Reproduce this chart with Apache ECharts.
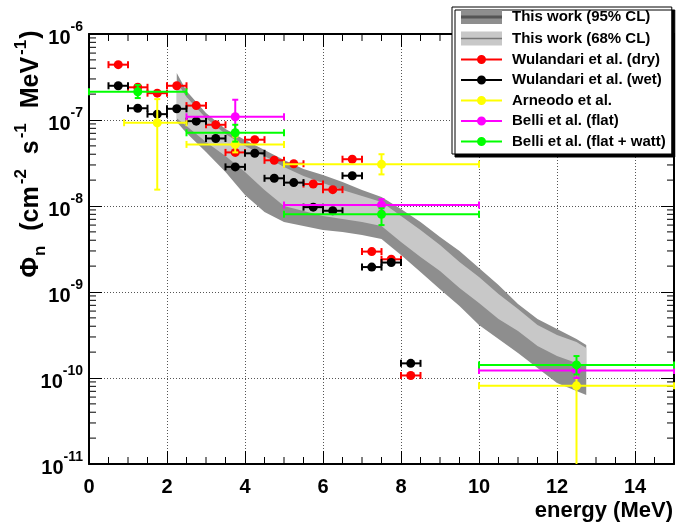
<!DOCTYPE html>
<html>
<head>
<meta charset="utf-8">
<script src="https://cdn.jsdelivr.net/npm/echarts@6/dist/echarts.min.js"></script>
<style>
  html, body { margin: 0; padding: 0; background: #ffffff; }
  #chart { width: 688px; height: 524px; }
</style>
</head>
<body>
<div id="chart"></div>
<script>
// ---- neutron flux measurements (energy in MeV, flux in cm^-2 s^-1 MeV^-1) ----
const wulandariEnergy = [0.75, 1.25, 1.75, 2.25, 2.75, 3.25, 3.75, 4.25, 4.75, 5.25, 5.75, 6.25, 6.75, 7.25, 7.75, 8.25];
const wulandariHalfBin = 0.25;
const wulandariDry = [4.4e-7, 2.4e-7, 2.05e-7, 2.5e-7, 1.47e-7, 8.8e-8, 4.2e-8, 5.9e-8, 3.4e-8, 3.1e-8, 1.8e-8, 1.55e-8, 3.5e-8, 2.95e-9, 2.4e-9, 1.07e-10];
const wulandariWet = [2.5e-7, 1.37e-7, 1.17e-7, 1.35e-7, 9.7e-8, 6.1e-8, 2.85e-8, 4.1e-8, 2.1e-8, 1.87e-8, 9.7e-9, 8.8e-9, 2.25e-8, 1.95e-9, 2.2e-9, 1.48e-10];

const arneodoEnergy = [1.75, 3.75, 7.5, 12.5];
const arneodoELow = [0.9, 2.5, 5, 10];
const arneodoEHigh = [2.5, 5, 10, 15];
const arneodoFlux = [9.3e-8, 5.2e-8, 3.05e-8, 8.1e-11];
const arneodoFluxLow = [1.55e-8, 4.2e-8, 2.33e-8, 0];
const arneodoFluxHigh = [1.75e-7, 6.4e-8, 4.0e-8, 1.2e-10];

const belliFlatEnergy = [3.75, 7.5, 12.5];
const belliFlatELow = [2.5, 5, 10];
const belliFlatEHigh = [5, 10, 15];
const belliFlatFlux = [1.09e-7, 1.03e-8, 1.22e-10];
const belliFlatFluxLow = [7.2e-8, 8.7e-9, 1.0e-10];
const belliFlatFluxHigh = [1.72e-7, 1.2e-8, 1.45e-10];

const belliWattEnergy = [1.25, 3.75, 7.5, 12.5];
const belliWattELow = [0, 2.5, 5, 10];
const belliWattEHigh = [2.5, 5, 10, 15];
const belliWattFlux = [2.13e-7, 7.1e-8, 8.0e-9, 1.42e-10];
const belliWattFluxLow = [1.8e-7, 5.6e-8, 6.0e-9, 1.1e-10];
const belliWattFluxHigh = [2.55e-7, 8.8e-8, 9.4e-9, 1.8e-10];

// ---- this work: confidence bands ----
const bandEnergy = [2.25, 2.5, 3, 3.5, 4, 4.5, 5, 5.5, 6, 6.5, 7, 7.5, 8, 8.5, 9, 9.5, 10, 10.5, 11, 11.5, 12, 12.5, 12.75];
const band95High = [3.52e-7, 2.17e-7, 1.21e-7, 7.86e-8, 5.85e-8, 4.48e-8, 3.43e-8, 2.69e-8, 2.29e-8, 1.90e-8, 1.53e-8, 1.27e-8, 9.23e-9, 6.52e-9, 4.36e-9, 3.00e-9, 1.90e-9, 1.21e-9, 7.25e-10, 4.85e-10, 3.71e-10, 2.84e-10, 2.42e-10];
const band95Low = [9.48e-8, 7.06e-8, 4.25e-8, 2.48e-8, 1.34e-8, 8.51e-9, 6.52e-9, 5.85e-9, 5.26e-9, 4.98e-9, 4.60e-9, 4.13e-9, 2.69e-9, 1.71e-9, 1.08e-9, 6.87e-10, 4.13e-10, 2.84e-10, 1.95e-10, 1.31e-10, 8.75e-11, 7.06e-11, 6.34e-11];
const band68High = [2.77e-7, 1.85e-7, 1.05e-7, 6.87e-8, 4.98e-8, 3.81e-8, 2.84e-8, 2.23e-8, 1.85e-8, 1.53e-8, 1.31e-8, 1.11e-8, 7.65e-9, 5.26e-9, 3.52e-9, 2.23e-9, 1.49e-9, 9.48e-10, 6.34e-10, 4.13e-10, 3.16e-10, 2.62e-10, 2.23e-10];
const band68Low = [1.05e-7, 8.51e-8, 5.55e-8, 3.81e-8, 2.48e-8, 1.53e-8, 1.0e-8, 8.75e-9, 7.65e-9, 7.06e-9, 6.52e-9, 5.85e-9, 3.81e-9, 2.55e-9, 1.75e-9, 1.11e-9, 7.45e-10, 4.85e-10, 3.52e-10, 2.35e-10, 1.80e-10, 1.49e-10, 1.38e-10];

// ---- axes ----
const energyMin = 0, energyMax = 15, energyStep = 2, energyMinorStep = 0.5;
const fluxMin = 1e-11, fluxMax = 1e-6;
const fluxMinorMultipliers = [2, 3, 4, 5, 6, 7, 8, 9];

const FONT = '"Liberation Sans", Arial, Helvetica, sans-serif';
const COLORS = {
  band95: '#8e8e8e', band68: '#c8c8c8',
  dry: '#ff0000', wet: '#000000', arneodo: '#ffff00', flat: '#ff00ff', watt: '#00ff00'
};

// table rows: [E, flux, Elow, Ehigh, fluxLow, fluxHigh]
function rows(e, f, el, eh, fl, fh) {
  return e.map((v, i) => [v, f[i], el[i], eh[i], fl[i], fh[i]]);
}
const dryRows = wulandariEnergy.map((e, i) => [e, wulandariDry[i], e - wulandariHalfBin, e + wulandariHalfBin, wulandariDry[i], wulandariDry[i]]);
const wetRows = wulandariEnergy.map((e, i) => [e, wulandariWet[i], e - wulandariHalfBin, e + wulandariHalfBin, wulandariWet[i], wulandariWet[i]]);
const arneodoRows = rows(arneodoEnergy, arneodoFlux, arneodoELow, arneodoEHigh, arneodoFluxLow, arneodoFluxHigh);
const flatRows = rows(belliFlatEnergy, belliFlatFlux, belliFlatELow, belliFlatEHigh, belliFlatFluxLow, belliFlatFluxHigh);
const wattRows = rows(belliWattEnergy, belliWattFlux, belliWattELow, belliWattEHigh, belliWattFluxLow, belliWattFluxHigh);

// points with horizontal/vertical error bars and end caps
function errorBarRenderer(color) {
  return function (params, api) {
    const cs = params.coordSys;
    const x = api.value(0), y = api.value(1);
    const xl = api.value(2), xh = api.value(3), yl = api.value(4), yh = api.value(5);
    const c = api.coord([x, y]);
    const left = api.coord([xl, y])[0];
    const right = api.coord([xh, y])[0];
    const top = api.coord([x, yh])[1];
    const bottom = yl > 0 ? api.coord([x, yl])[1] : cs.y + cs.height;
    const ls = { stroke: color, lineWidth: 2 };
    const cap = 3.5;
    const kids = [
      { type: 'line', shape: { x1: left, y1: c[1], x2: right, y2: c[1] }, style: ls },
      { type: 'line', shape: { x1: left, y1: c[1] - cap, x2: left, y2: c[1] + cap }, style: ls },
      { type: 'line', shape: { x1: right, y1: c[1] - cap, x2: right, y2: c[1] + cap }, style: ls }
    ];
    if (c[1] - top > 1) {
      kids.push({ type: 'line', shape: { x1: c[0], y1: top, x2: c[0], y2: c[1] }, style: ls });
      kids.push({ type: 'line', shape: { x1: c[0] - 3, y1: top, x2: c[0] + 3, y2: top }, style: ls });
    }
    if (bottom - c[1] > 1) {
      kids.push({ type: 'line', shape: { x1: c[0], y1: c[1], x2: c[0], y2: bottom }, style: ls });
      if (yl > 0) kids.push({ type: 'line', shape: { x1: c[0] - 3, y1: bottom, x2: c[0] + 3, y2: bottom }, style: ls });
    }
    kids.push({ type: 'circle', shape: { cx: c[0], cy: c[1], r: 4.5 }, style: { fill: color } });
    return { type: 'group', children: kids };
  };
}

// filled band between lower and upper curves
function bandRenderer(low, high, fill) {
  return function (params, api) {
    if (params.dataIndex !== 0) return null;
    const pts = [];
    for (let i = 0; i < bandEnergy.length; i++) pts.push(api.coord([bandEnergy[i], high[i]]));
    for (let i = bandEnergy.length - 1; i >= 0; i--) pts.push(api.coord([bandEnergy[i], low[i]]));
    return { type: 'polygon', shape: { points: pts }, style: { fill: fill } };
  };
}

function errorSeries(name, color, data) {
  return {
    name: name, type: 'custom', color: color, itemStyle: { color: color },
    renderItem: errorBarRenderer(color), data: data,
    encode: { x: 0, y: 1 }, z: 5
  };
}

// minor ticks (inside, on all four sides)
const xMinorTicks = [];
for (let v = energyMin + energyMinorStep; v < energyMax; v += energyMinorStep) {
  if (Math.abs(v / energyStep - Math.round(v / energyStep)) > 1e-6) xMinorTicks.push([v, 1e-8]);
}
const yMinorTicks = [];
for (let e = -11; e < -6; e++) {
  fluxMinorMultipliers.forEach(m => yMinorTicks.push([1, m * Math.pow(10, e)]));
}
function minorTickRenderer(dir) {
  return function (params, api) {
    const cs = params.coordSys;
    const p = api.coord([api.value(0), api.value(1)]);
    const st = { stroke: '#000', lineWidth: 1 };
    const len = 7;
    if (dir === 'x') {
      return { type: 'group', children: [
        { type: 'line', shape: { x1: p[0], y1: cs.y + cs.height, x2: p[0], y2: cs.y + cs.height - len }, style: st },
        { type: 'line', shape: { x1: p[0], y1: cs.y, x2: p[0], y2: cs.y + len }, style: st }
      ] };
    }
    return { type: 'group', children: [
      { type: 'line', shape: { x1: cs.x, y1: p[1], x2: cs.x + len, y2: p[1] }, style: st },
      { type: 'line', shape: { x1: cs.x + cs.width, y1: p[1], x2: cs.x + cs.width - len, y2: p[1] }, style: st }
    ] };
  };
}

// legend icons
function bandIcon(fill, line, lw) {
  const svg = "<svg xmlns='http://www.w3.org/2000/svg' width='41' height='16'>" +
    "<rect x='0' y='1' width='41' height='14' fill='" + fill + "'/>" +
    "<rect x='0' y='" + (8 - lw / 2) + "' width='41' height='" + lw + "' fill='" + line + "'/></svg>";
  return 'image://data:image/svg+xml;charset=utf-8,' + encodeURIComponent(svg);
}
const pointIcon = 'path://M0,7H41V9H0Z M25,8A4.5,4.5 0 1 1 16,8A4.5,4.5 0 1 1 25,8Z';

const gridBox = { left: 89, top: 34, width: 585, height: 430 };
const gridLine = { show: true, lineStyle: { color: '#555', width: 1, type: [1, 2] } };
const frameLine = { show: true, onZero: false, lineStyle: { color: '#000', width: 2 } };

const chart = echarts.init(document.getElementById('chart'), null, { renderer: 'canvas' });
chart.setOption({
  animation: false,
  backgroundColor: '#ffffff',
  grid: Object.assign({ show: false }, gridBox),
  xAxis: [
    {
      type: 'value', min: energyMin, max: energyMax, interval: energyStep, position: 'bottom',
      axisLine: frameLine,
      axisTick: { show: true, inside: true, length: 13, lineStyle: { color: '#000', width: 1 } },
      splitLine: gridLine,
      axisLabel: {
        show: true, showMaxLabel: false, margin: 13,
        fontFamily: FONT, fontWeight: 'bold', fontSize: 20, color: '#000'
      }
    },
    {
      type: 'value', min: energyMin, max: energyMax, interval: energyStep, position: 'top',
      axisLine: frameLine,
      axisTick: { show: true, inside: true, length: 13, lineStyle: { color: '#000', width: 1 } },
      splitLine: { show: false }, axisLabel: { show: false }
    }
  ],
  yAxis: [
    {
      type: 'log', logBase: 10, min: fluxMin, max: fluxMax, splitNumber: 5, position: 'left',
      axisLine: frameLine,
      axisTick: { show: true, inside: true, length: 13, lineStyle: { color: '#000', width: 1 } },
      splitLine: gridLine,
      axisLabel: {
        show: true, margin: 6,
        formatter: v => '{b|10}{s|' + Math.round(Math.log10(v)) + '}',
        rich: {
          b: { fontFamily: FONT, fontWeight: 'bold', fontSize: 20, color: '#000', lineHeight: 28, verticalAlign: 'bottom' },
          s: { fontFamily: FONT, fontWeight: 'bold', fontSize: 14, color: '#000', verticalAlign: 'top' }
        }
      }
    },
    {
      type: 'log', logBase: 10, min: fluxMin, max: fluxMax, splitNumber: 5, position: 'right',
      axisLine: frameLine,
      axisTick: { show: true, inside: true, length: 13, lineStyle: { color: '#000', width: 1 } },
      splitLine: { show: false }, axisLabel: { show: false }
    }
  ],
  legend: {
    z: 20,
    data: [
      { name: 'This work (95% CL)', icon: bandIcon(COLORS.band95, '#555555', 3) },
      { name: 'This work (68% CL)', icon: bandIcon(COLORS.band68, '#777777', 1.5) },
      { name: 'Wulandari et al. (dry)', icon: pointIcon },
      { name: 'Wulandari et al. (wet)', icon: pointIcon },
      { name: 'Arneodo et al.', icon: pointIcon },
      { name: 'Belli et al. (flat)', icon: pointIcon },
      { name: 'Belli et al. (flat + watt)', icon: pointIcon }
    ],
    orient: 'vertical', left: 452, top: 7,
    itemWidth: 41, itemHeight: 16, itemGap: 5.5,
    padding: [2, 6, 5, 9],
    backgroundColor: '#ffffff', borderColor: '#000', borderWidth: 1,
    shadowColor: '#000', shadowBlur: 0, shadowOffsetX: 3, shadowOffsetY: 3,
    selectedMode: false,
    textStyle: { fontFamily: FONT, fontWeight: 'bold', fontSize: 15, color: '#000', padding: [0, 0, 0, 5] }
  },
  graphic: [
    {
      type: 'text', x: 31, y: 154, rotation: Math.PI / 2, z: 10,
      style: {
        text: '{m|Φ}{sub|n}{m|  (cm}{sup|-2}{m|  s}{sup|-1}{m|  MeV}{sup|-1}{m|)}',
        align: 'center', verticalAlign: 'middle',
        rich: {
          m: { fontFamily: FONT, fontWeight: 'bold', fontSize: 25, fill: '#000', lineHeight: 36, verticalAlign: 'middle' },
          sub: { fontFamily: FONT, fontWeight: 'bold', fontSize: 17, fill: '#000', verticalAlign: 'bottom', padding: [0, 1, 0, 1] },
          sup: { fontFamily: FONT, fontWeight: 'bold', fontSize: 17, fill: '#000', verticalAlign: 'top', padding: [0, 1, 0, 2] }
        }
      }
    },
    {
      type: 'text', x: 673, y: 511, z: 10,
      style: {
        text: 'energy (MeV)', align: 'right', verticalAlign: 'middle',
        fontFamily: FONT, fontWeight: 'bold', fontSize: 22, fill: '#000'
      }
    }
  ],
  series: [
    {
      name: 'This work (95% CL)', type: 'custom', color: COLORS.band95, itemStyle: { color: COLORS.band95 },
      renderItem: bandRenderer(band95Low, band95High, COLORS.band95),
      data: bandEnergy.map((e, i) => [e, band95Low[i], band95High[i]]), encode: { x: 0, y: [1, 2] }, z: 2
    },
    {
      name: 'This work (68% CL)', type: 'custom', color: COLORS.band68, itemStyle: { color: COLORS.band68 },
      renderItem: bandRenderer(band68Low, band68High, COLORS.band68),
      data: bandEnergy.map((e, i) => [e, band68Low[i], band68High[i]]), encode: { x: 0, y: [1, 2] }, z: 3
    },
    errorSeries('Wulandari et al. (dry)', COLORS.dry, dryRows),
    errorSeries('Wulandari et al. (wet)', COLORS.wet, wetRows),
    errorSeries('Arneodo et al.', COLORS.arneodo, arneodoRows),
    errorSeries('Belli et al. (flat)', COLORS.flat, flatRows),
    errorSeries('Belli et al. (flat + watt)', COLORS.watt, wattRows),
    {
      name: 'xMinor', type: 'custom', renderItem: minorTickRenderer('x'),
      data: xMinorTicks, encode: { x: 0, y: 1 }, z: 1, silent: true
    },
    {
      name: 'yMinor', type: 'custom', renderItem: minorTickRenderer('y'),
      data: yMinorTicks, encode: { x: 0, y: 1 }, z: 1, silent: true
    }
  ]
});
</script>
</body>
</html>
